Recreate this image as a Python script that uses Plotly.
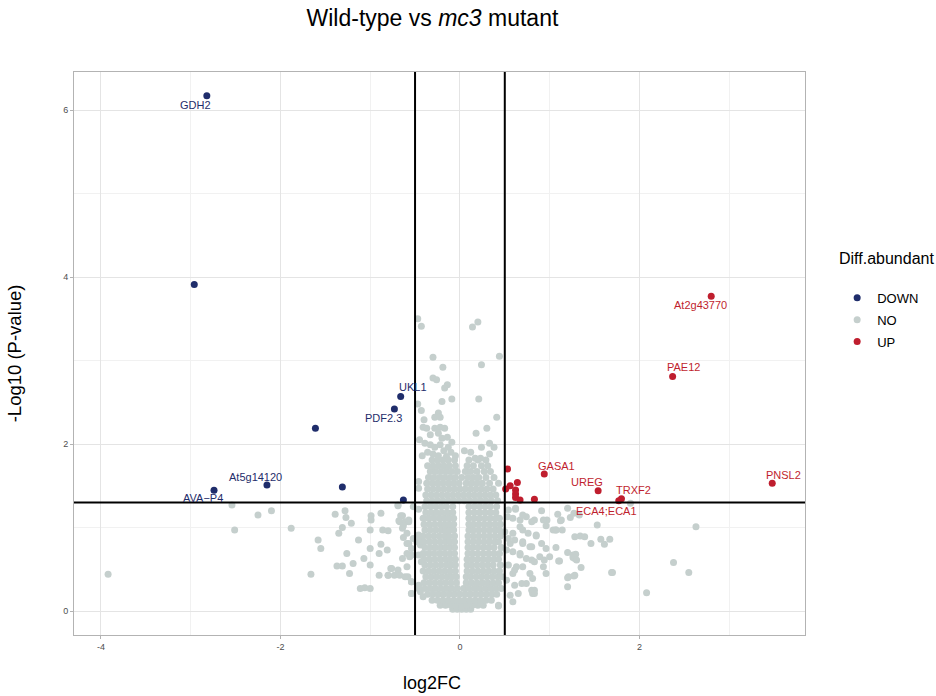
import plotly.graph_objects as go

# ---------------- data ----------------
fc_cut = 0.5
p_cut = 1.301

# significant down
down_x = [-2.82, -2.96, -0.66, -0.73, -1.61, -2.15, -2.74, -1.31, -0.63]
down_y = [6.17, 3.91, 2.57, 2.42, 2.19, 1.51, 1.445, 1.485, 1.33]
down_lab = ["GDH2", "", "UKL1", "PDF2.3", "", "At5g14120", "AVA\u2212P4", "", ""]

# significant up
up_x = [2.80, 2.37, 3.48, 0.94, 1.54, 1.80, 1.77, 0.53, 0.56, 0.64, 0.51, 0.62, 0.62, 0.67, 0.83, 0.62]
up_y = [3.77, 2.81, 1.53, 1.64, 1.44, 1.345, 1.32, 1.70, 1.50, 1.54, 1.46, 1.45, 1.40, 1.33, 1.34, 1.36]
up_lab = ["At2g43770", "PAE12", "PNSL2", "GASA1", "UREG", "TRXF2", "ECA4;ECA1", "", "", "", "", "", "", "", "", ""]

# non-significant: scattered points
no_x = [-0.47, -0.43, 0.20, 0.14, 0.44, -0.30, -0.19, 0.24, -0.30, -0.26, -0.14, -0.17, -0.09, -0.20,
        -0.47, -0.43, 0.21, 0.41, 0.30, 0.18, 0.33, 0.38, 0.24, 0.12, 0.17, 0.23, 0.05, 0.33,
        -0.24, -0.28, -0.22, -0.40, -0.41, -0.37, -0.28, -0.22, -0.17, -0.33, -0.24, -0.20, -0.14,
        -0.39, -0.33, -0.28, -0.22, -0.13, -0.18, -0.10, -0.30, -0.36, -0.24, -0.15, -0.42, -0.05,
        -0.09, -0.45,
        -2.54, -2.25, -2.10, -2.51, -1.88, -3.92, -1.66, -1.58, -1.55, -1.39, -1.28, -1.27, -1.21,
        -1.31, -1.35, -1.26, -1.13, -1.37, -1.31, -1.19, -1.23, -1.07, -0.99, -0.99, -0.88, -0.86,
        -1.00, -1.00, -1.00, -0.90, -0.88, -0.81, -1.11, -1.06, -1.00, -0.90, -0.80, -0.77, -0.73,
        -0.69, -0.64, -0.67, -0.57, -0.64, -0.63, -0.59, -0.64, -0.56, -0.59, -0.58, -0.54, -0.52,
        -0.46, -0.44, -0.54, -0.46,
        -0.69, -0.66, -0.68, -0.61, -0.57, -0.63, -0.80, -0.59, -0.52, -0.48, -0.57, -0.54, -0.59,
        -0.54, -0.46, -0.43, -0.76, -0.69, -0.80, -0.67, -0.61, -0.54, -0.46, -0.54, -0.44, -0.41,
        -0.46, -0.44, -0.46, -0.46,
        0.62, 0.53, 0.67, 0.74, 0.83, 0.91, 0.97, 1.04, 1.14, 1.20, 1.13, 1.27, 1.33, 1.53, 1.28,
        1.34, 1.46, 1.57, 1.61, 1.67, 1.70, 1.26, 1.28, 1.11, 1.21, 1.28, 1.20, 2.08, 2.38, 0.85,
        0.70, 0.78, 0.96, 0.89, 1.00, 0.80, 0.93, 0.96, 0.83, 0.81, 0.74, 0.65, 0.59, 0.63, 0.67,
        0.70, 0.59, 0.56, 0.43,
        1.09, 1.12, 1.23, 1.90, 1.07, 1.39, 1.07, 1.20, 1.29, 1.26, 1.30, 1.10, 1.35, 1.69, 1.27,
        1.20, 2.55, 2.63,
        0.62, 0.54, 0.70, 0.59, 0.80, 0.93, 0.96, 1.07, 0.67, 0.50, 0.76, 0.85, 0.54, 0.61, 0.70,
        0.80, 0.91, 0.52, 0.59, 0.67, 0.74, 0.83, 0.94, 0.54, 0.61, 0.70, 0.78, 0.81, 0.52, 0.61,
        0.69, 0.56, 0.80, 0.83, 0.43, 0.59]
no_y = [3.50, 3.41, 3.46, 3.40, 3.05, 3.04, 2.92, 2.95, 2.79, 2.77, 2.71, 2.67, 2.54, 2.51,
        2.48, 2.40, 2.54, 2.32, 2.19, 2.13, 2.01, 1.96, 1.96, 1.90, 1.83, 1.83, 1.92, 1.88,
        2.37, 2.32, 2.32, 2.29, 2.20, 2.19, 2.19, 2.20, 2.19, 2.11, 2.13, 2.07, 2.08,
        2.01, 1.99, 1.96, 1.99, 1.96, 1.92, 1.90, 1.88, 1.90, 1.86, 1.85, 1.86, 1.86,
        2.02, 2.05,
        1.27, 1.15, 1.20, 0.97, 0.99, 0.44, 0.44, 0.85, 0.75, 1.16, 1.20, 1.12, 1.05,
        1.00, 0.93, 0.69, 0.85, 0.54, 0.54, 0.57, 0.45, 0.63, 1.14, 1.09, 1.17, 0.97,
        0.97, 0.75, 0.55, 0.69, 0.80, 0.73, 0.27, 0.28, 0.27, 0.43, 0.43, 0.51, 0.43,
        1.27, 1.14, 1.07, 1.07, 0.99, 0.88, 0.81, 0.63, 0.65, 0.53, 0.41, 0.35, 1.25,
        1.22, 0.87, 0.21, 0.27,
        1.26, 1.14, 1.08, 1.07, 1.09, 1.02, 0.96, 0.93, 0.87, 0.83, 0.81, 0.75, 0.69,
        0.67, 0.67, 0.59, 0.51, 0.49, 0.43, 0.43, 0.41, 0.35, 0.31, 0.21, 0.23, 0.17,
        0.91, 0.79, 1.47, 1.55,
        1.22, 1.13, 1.09, 1.13, 1.09, 1.20, 1.09, 0.97, 0.97, 1.23, 1.09, 1.17, 1.15, 1.03, 0.89,
        0.90, 0.81, 0.86, 0.80, 0.86, 0.46, 0.67, 0.63, 0.60, 0.41, 0.43, 0.29, 0.22, 0.58, 0.90,
        0.97, 0.77, 0.75, 0.65, 0.65, 0.61, 0.53, 0.45, 0.25, 0.21, 0.33, 0.21, 0.45, 0.53, 0.69,
        0.81, 0.93, 0.81, 0.06,
        1.16, 1.08, 1.12, 1.29, 0.97, 0.89, 0.76, 0.70, 0.68, 0.64, 0.61, 0.60, 0.52, 0.46, 0.42,
        0.40, 0.46, 1.01,
        1.23, 1.21, 1.15, 1.11, 1.07, 1.09, 1.02, 0.97, 1.01, 0.95, 0.93, 0.91, 0.87, 0.85, 0.83,
        0.77, 0.81, 0.73, 0.71, 0.67, 0.63, 0.59, 0.61, 0.55, 0.49, 0.53, 0.45, 0.39, 0.37, 0.31,
        0.33, 0.19, 0.25, 0.21, 0.07, 0.11]

# non-significant: dense core of the volcano, read row by row
core_row_y = [0.02, 0.07, 0.13, 0.20, 0.27, 0.34, 0.41, 0.48, 0.55, 0.62, 0.69, 0.76, 0.83,
              0.90, 0.97, 1.04, 1.11, 1.18, 1.25, 1.32, 1.39, 1.46, 1.53, 1.60, 1.67, 1.74, 1.81]
core_row_x = [
    [-0.08, -0.03, 0.02, 0.07, 0.12],
    [-0.22, -0.16, -0.10, -0.04, 0.02, 0.08, 0.14, 0.20, 0.26],
    [-0.31, -0.25, -0.19, -0.13, -0.07, -0.01, 0.05, 0.11, 0.17, 0.23, 0.29, 0.35],
    [-0.36, -0.30, -0.24, -0.18, -0.12, -0.06, 0.00, 0.06, 0.12, 0.18, 0.24, 0.30, 0.36, 0.41],
    [-0.39, -0.33, -0.27, -0.21, -0.15, -0.09, -0.03, 0.04, 0.10, 0.16, 0.22, 0.28, 0.34, 0.40, 0.46],
    [-0.40, -0.34, -0.28, -0.22, -0.16, -0.10, -0.04, 0.07, 0.13, 0.19, 0.25, 0.31, 0.37, 0.43],
    [-0.38, -0.32, -0.26, -0.20, -0.14, -0.09, -0.04, 0.07, 0.12, 0.18, 0.24, 0.30, 0.36, 0.42, 0.47],
    [-0.41, -0.35, -0.29, -0.23, -0.17, -0.11, -0.05, 0.08, 0.14, 0.20, 0.26, 0.32, 0.38, 0.44],
    [-0.39, -0.33, -0.27, -0.21, -0.15, -0.10, -0.05, 0.08, 0.13, 0.19, 0.25, 0.31, 0.37, 0.45],
    [-0.40, -0.34, -0.28, -0.22, -0.16, -0.11, -0.05, 0.08, 0.14, 0.20, 0.26, 0.32, 0.38, 0.43],
    [-0.41, -0.35, -0.29, -0.23, -0.17, -0.11, -0.06, 0.09, 0.14, 0.20, 0.26, 0.32, 0.38, 0.44],
    [-0.39, -0.33, -0.27, -0.21, -0.16, -0.11, -0.06, 0.09, 0.14, 0.20, 0.26, 0.32, 0.38, 0.46],
    [-0.40, -0.34, -0.28, -0.22, -0.16, -0.11, -0.06, 0.09, 0.15, 0.21, 0.27, 0.33, 0.39, 0.43],
    [-0.41, -0.35, -0.29, -0.23, -0.17, -0.12, -0.06, 0.09, 0.15, 0.21, 0.27, 0.33, 0.39, 0.45],
    [-0.39, -0.33, -0.27, -0.21, -0.16, -0.12, -0.07, 0.10, 0.15, 0.21, 0.27, 0.33, 0.39, 0.44],
    [-0.40, -0.34, -0.28, -0.22, -0.17, -0.12, -0.07, 0.10, 0.15, 0.21, 0.27, 0.33, 0.39, 0.45],
    [-0.41, -0.35, -0.29, -0.23, -0.17, -0.12, -0.07, 0.10, 0.16, 0.22, 0.28, 0.34, 0.40, 0.44],
    [-0.38, -0.32, -0.26, -0.20, -0.14, -0.08, 0.10, 0.16, 0.22, 0.28, 0.34, 0.40],
    [-0.39, -0.33, -0.27, -0.21, -0.15, -0.08, 0.10, 0.16, 0.22, 0.28, 0.34, 0.41],
    [-0.37, -0.31, -0.25, -0.19, -0.13, -0.07, -0.01, 0.05, 0.11, 0.17, 0.23, 0.29, 0.35, 0.42],
    [-0.38, -0.32, -0.26, -0.20, -0.14, -0.08, -0.02, 0.04, 0.10, 0.16, 0.22, 0.28, 0.34, 0.40],
    [-0.36, -0.30, -0.24, -0.18, -0.12, -0.06, 0.00, 0.06, 0.12, 0.18, 0.24, 0.30, 0.37],
    [-0.37, -0.31, -0.25, -0.19, -0.13, -0.07, -0.01, 0.07, 0.13, 0.19, 0.25, 0.33, 0.43],
    [-0.35, -0.29, -0.23, -0.17, -0.11, -0.05, 0.02, 0.09, 0.15, 0.21, 0.29, 0.38],
    [-0.33, -0.27, -0.21, -0.15, -0.09, -0.03, 0.06, 0.12, 0.19, 0.27, 0.34],
    [-0.36, -0.30, -0.24, -0.18, -0.12, -0.05, 0.08, 0.15, 0.24, 0.31],
    [-0.31, -0.25, -0.19, -0.13, -0.06, 0.10, 0.20, 0.29],
]

x_ticks = [-4, -2, 0, 2]
x_tick_text = ["-4", "-2", "0", "2"]
y_ticks = [0, 2, 4, 6]
y_tick_text = ["0", "2", "4", "6"]

# ---------------- styles ----------------
C_DOWN = "#1f2d6b"
C_NO = "#c5cfcd"
C_UP = "#bf1e2e"
FONT = "Liberation Sans, Arial, sans-serif"

# label offsets in pixels (dx, dy with +dy = down)
down_off = {"GDH2": (-11, 9), "UKL1": (12, -9), "PDF2.3": (-11, 9),
            "At5g14120": (-11, -8), "AVA\u2212P4": (-11, 8)}
up_off = {"At2g43770": (-11, 9), "PAE12": (11, -9), "PNSL2": (11, -8), "GASA1": (12, -8),
          "UREG": (-11, -9), "TRXF2": (12, -9), "ECA4;ECA1": (-12, 10)}

all_no_x = list(no_x)
all_no_y = list(no_y)
for yv, xs in zip(core_row_y, core_row_x):
    for xv in xs:
        all_no_x.append(xv)
        all_no_y.append(yv)

fig = go.Figure()
fig.add_trace(go.Scatter(x=all_no_x, y=all_no_y, mode="markers", name="NO", legendrank=2,
                         legendgroup="NO",
                         marker=dict(color=C_NO, size=7, line=dict(width=0))))
fig.add_trace(go.Scatter(x=down_x, y=down_y, mode="markers", name="DOWN", legendrank=1,
                         legendgroup="DOWN",
                         marker=dict(color=C_DOWN, size=7, line=dict(width=0))))
fig.add_trace(go.Scatter(x=up_x, y=up_y, mode="markers", name="UP", legendrank=3,
                         legendgroup="UP",
                         marker=dict(color=C_UP, size=7, line=dict(width=0))))

annotations = []
for xs, ys, labs, offs, col in [(down_x, down_y, down_lab, down_off, C_DOWN),
                                 (up_x, up_y, up_lab, up_off, C_UP)]:
    for xv, yv, lab in zip(xs, ys, labs):
        if not lab:
            continue
        dx, dy = offs[lab]
        annotations.append(dict(x=xv, y=yv, xref="x", yref="y", text=lab, showarrow=False,
                                xshift=dx, yshift=-dy, xanchor="center", yanchor="middle",
                                font=dict(family=FONT, size=11, color=col)))

annotations.append(dict(x=0.49, y=-0.085, xref="paper", yref="paper", text="log2FC",
                        showarrow=False, xanchor="center", yanchor="middle",
                        font=dict(family=FONT, size=18, color="#000000")))
annotations.append(dict(x=-0.081, y=0.5, xref="paper", yref="paper", text="-Log10 (P-value)",
                        showarrow=False, textangle=-90, xanchor="center", yanchor="middle",
                        font=dict(family=FONT, size=18.5, color="#000000")))
annotations.append(dict(x=1.0435, y=0.6696, xref="paper", yref="paper", text="Diff.abundant",
                        showarrow=False, xanchor="left", yanchor="middle",
                        font=dict(family=FONT, size=16, color="#000000")))

shapes = [
    dict(type="line", xref="x", yref="paper", x0=-fc_cut, x1=-fc_cut, y0=0, y1=1,
         line=dict(color="#000000", width=2)),
    dict(type="line", xref="x", yref="paper", x0=fc_cut, x1=fc_cut, y0=0, y1=1,
         line=dict(color="#000000", width=2)),
    dict(type="line", xref="paper", yref="y", x0=0, x1=1, y0=p_cut, y1=p_cut,
         line=dict(color="#000000", width=2)),
]

axis_common = dict(showline=True, mirror=True, linecolor="#b3b3b3", linewidth=1,
                   ticks="outside", ticklen=3, tickcolor="#b3b3b3", zeroline=False,
                   showgrid=True, gridcolor="#e4e4e4", gridwidth=1,
                   tickfont=dict(family=FONT, size=9, color="#4d4d4d"))

fig.update_layout(
    width=936, height=696,
    margin=dict(l=74, r=131, t=72, b=61),
    paper_bgcolor="white", plot_bgcolor="white",
    title=dict(text="Wild-type vs <i>mc3</i> mutant", x=0.462, xanchor="center",
               y=0.974, yanchor="middle", font=dict(family=FONT, size=23, color="#000000")),
    xaxis=dict(range=[-4.30, 3.845], tickvals=x_ticks, ticktext=x_tick_text,
               minor=dict(dtick=1, tick0=0, showgrid=True, gridcolor="#f1f1f1", gridwidth=0.6, ticks=""),
               **axis_common),
    yaxis=dict(range=[-0.287, 6.455], tickvals=y_ticks, ticktext=y_tick_text,
               minor=dict(dtick=1, tick0=0, showgrid=True, gridcolor="#f1f1f1", gridwidth=0.6, ticks=""),
               **axis_common),
    legend=dict(x=1.044, xanchor="left", y=0.6256, yanchor="top",
                font=dict(family=FONT, size=13, color="#000000"),
                itemsizing="trace", traceorder="grouped", tracegroupgap=2,
                bgcolor="rgba(0,0,0,0)"),
    annotations=annotations,
    shapes=shapes,
    showlegend=True,
)

fig.write_html("out.html")
